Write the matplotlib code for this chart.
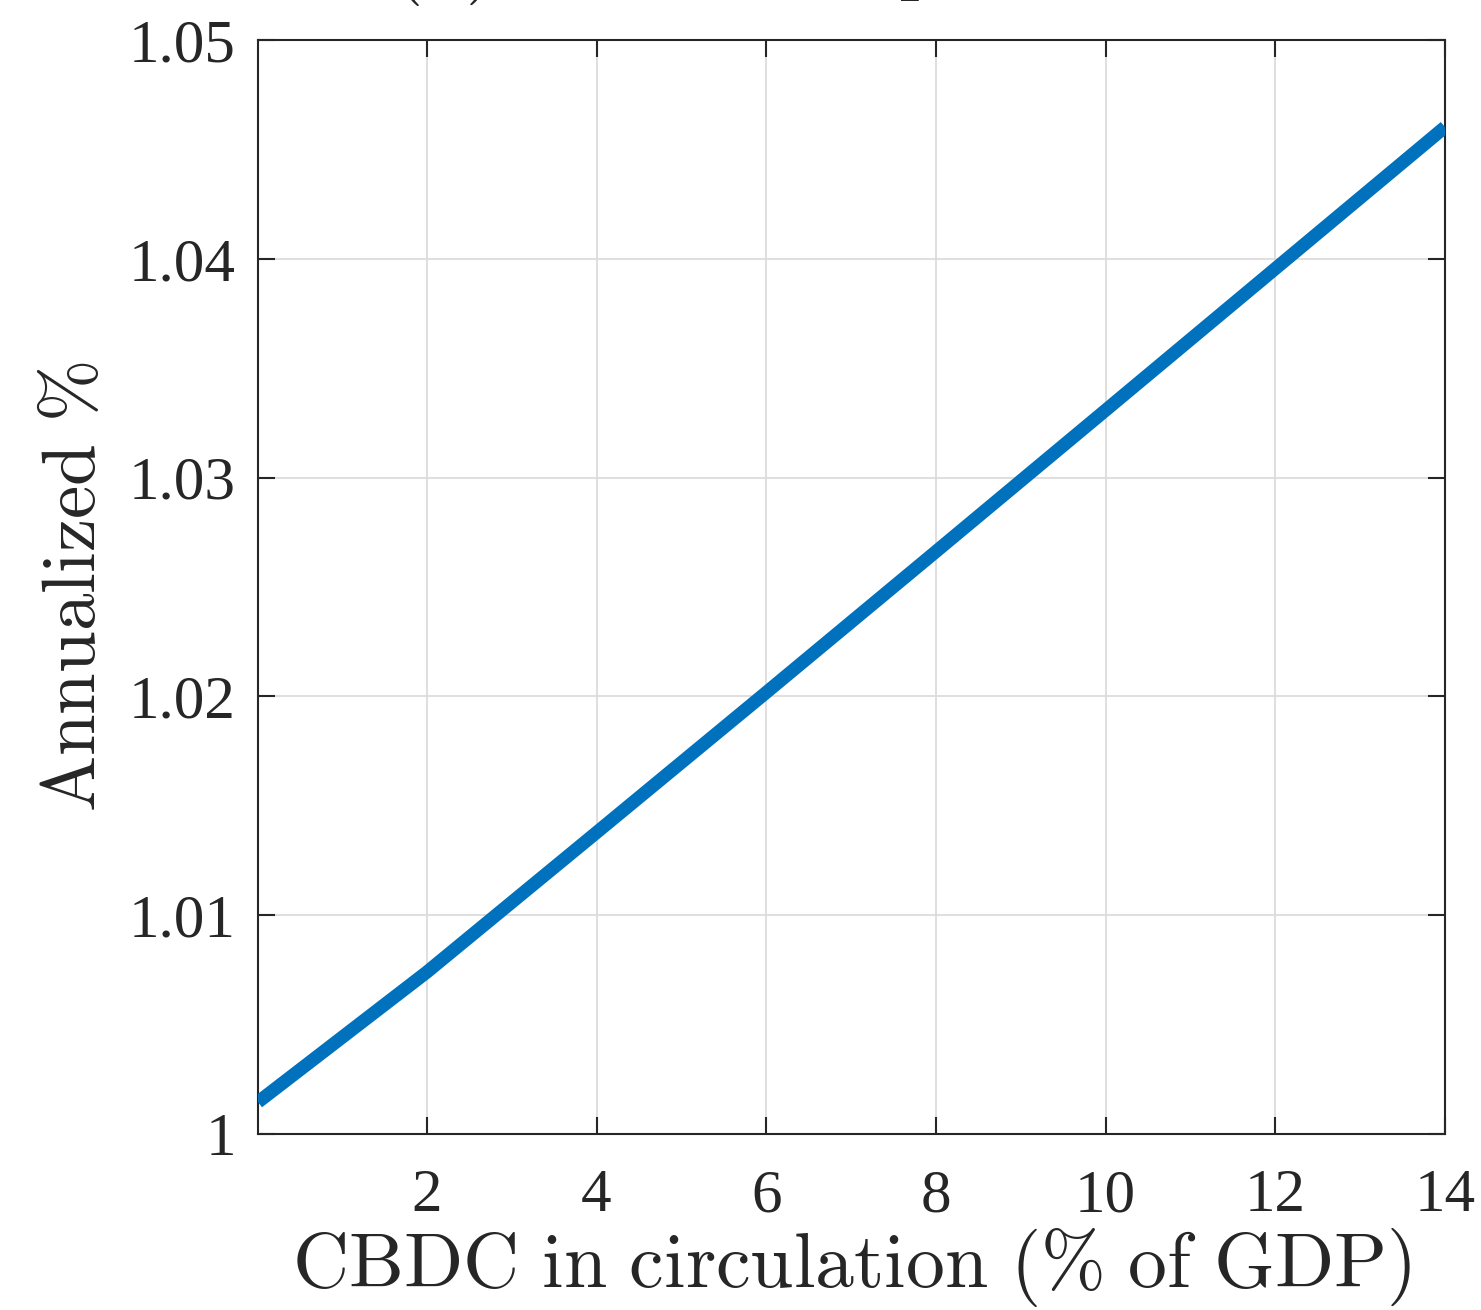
import matplotlib
matplotlib.use('Agg')
import matplotlib.pyplot as plt
import numpy as np

# CBDC in circulation (% of GDP) vs annualized %
cbdc = [0.01, 2, 4, 6, 8, 10, 12, 14]
rate = [1.00146, 1.00740, 1.01378, 1.02018, 1.02662, 1.03308, 1.03955, 1.04602]
xticks = [2, 4, 6, 8, 10, 12, 14]
yticks = [1.0, 1.01, 1.02, 1.03, 1.04, 1.05]
ytick_labels = ['1', '1.01', '1.02', '1.03', '1.04', '1.05']

plt.rcParams['mathtext.fontset'] = 'cm'
plt.rcParams['font.family'] = ['Liberation Serif', 'DejaVu Serif']

W, H = 1481, 1310
fig = plt.figure(figsize=(W / 100, H / 100), dpi=100)
ax = fig.add_axes([258 / W, (H - 1134) / H, (1445 - 258) / W, (1134 - 40) / H])

ax.plot(cbdc, rate, color='#0072BD', linewidth=9.5, solid_capstyle='butt', zorder=3)

ax.set_xlim(cbdc[0], 14)
ax.set_ylim(1.0, 1.05)
ax.set_xticks(xticks)
ax.set_xticklabels([str(t) for t in xticks])
ax.set_yticks(yticks)
ax.set_yticklabels(ytick_labels)

ax.grid(True, color='#dcdcdc', linewidth=1.3)
ax.set_axisbelow(True)
for s in ax.spines.values():
    s.set_color('#262626')
    s.set_linewidth(1.5)
ax.tick_params(direction='in', length=12, width=1.5, colors='#262626',
               labelsize=44, top=True, right=True)
ax.tick_params(axis='x', pad=25)
ax.tick_params(axis='y', pad=16)

ax.set_xlabel(r'$\mathrm{CBDC\ in\ circulation\ (\%\ of\ GDP)}$', fontsize=56,
              color='#262626', labelpad=1)
ax.set_ylabel(r'$\mathrm{Annualized\ \%}$', fontsize=54, color='#262626', labelpad=13)

# panel title, mostly cropped off the top of the image
fig.text(0.5, 1.0 + 14 / H, r'$\mathrm{(b)\ Loan\ rate\ spread}$',
         ha='center', va='baseline', fontsize=56, color='#262626')

fig.savefig('out.png', dpi=100)
